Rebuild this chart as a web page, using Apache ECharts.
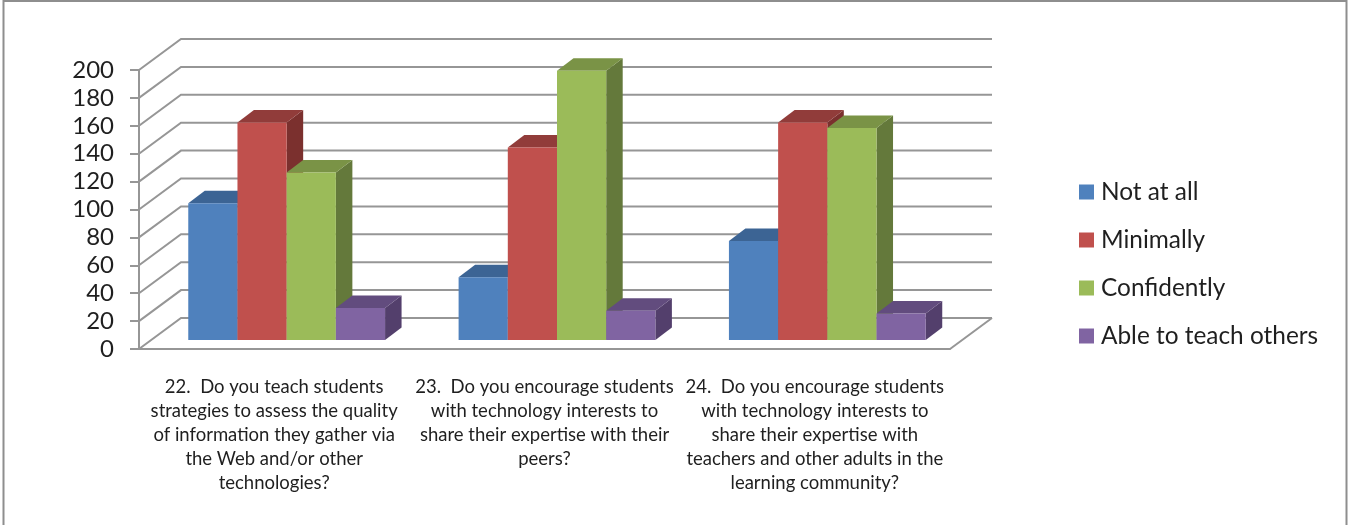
<!DOCTYPE html>
<html>
<head>
<meta charset="utf-8">
<title>Chart</title>
<style>
  html, body { margin: 0; padding: 0; background: #fff; }
  #chart { width: 1348px; height: 525px; }
</style>
<script src="https://cdn.jsdelivr.net/npm/echarts@6/dist/echarts.min.js"></script>
</head>
<body>
<div id="chart"></div>
<script>
var categories = [
  '22.  Do you teach students\nstrategies to assess the quality\nof information they gather via\nthe Web and/or other\ntechnologies?',
  '23.  Do you encourage students\nwith technology interests to\nshare their expertise with their\npeers?',
  '24.  Do you encourage students\nwith technology interests to\nshare their expertise with\nteachers and other adults in the\nlearning community?'
];
var seriesNames = ['Not at all', 'Minimally', 'Confidently', 'Able to teach others'];
var notAtAll = [98, 45, 71];
var minimally = [156, 138, 156];
var confidently = [120, 193, 152];
var ableToTeach = [23, 21, 19];
var yTicks = [0, 20, 40, 60, 80, 100, 120, 140, 160, 180, 200];

var values = [notAtAll, minimally, confidently, ableToTeach];
var frontColors = ['#4f81bd', '#c0504d', '#9bbb59', '#8064a2'];
var topColors = ['#3c6494', '#913c3a', '#7a9346', '#624c7e'];
var sideColors = ['#355a85', '#7b302e', '#64793b', '#533f6c'];

var lineColor = '#969696';
var wallDx = 42, wallDy = 31;   // depth of the chart box
var barDx = 16.5, barDy = 12.5; // depth of a bar
var gapDx = 12.5, gapDy = 9;    // space between front of box and front of bars
var barShare = 0.182;           // bar width as share of a category

function renderWall(params, api) {
  var cs = params.coordSys;
  var y = api.coord([0, api.value(0)])[1];
  var kids = [
    { type: 'polyline', shape: { points: [[cs.x, y], [cs.x + wallDx, y - wallDy], [cs.x + cs.width + wallDx, y - wallDy]] },
      style: { stroke: lineColor, lineWidth: 2, fill: null } }
  ];
  if (api.value(0) === 0) {
    kids.push({ type: 'line', shape: { x1: cs.x + cs.width, y1: y, x2: cs.x + cs.width + wallDx, y2: y - wallDy },
      style: { stroke: lineColor, lineWidth: 2 } });
  }
  return { type: 'group', children: kids };
}

function makeRenderBar(index) {
  return function (params, api) {
    var top = api.coord([api.value(0), api.value(1)]);
    var base = api.coord([api.value(0), 0]);
    var w = api.size([1, 0])[0] * barShare;
    var x0 = top[0] + gapDx + (index - 2) * w;
    var x1 = x0 + w;
    var y0 = top[1] - gapDy;
    var y1 = base[1] - gapDy;
    return {
      type: 'group',
      children: [
        { type: 'polygon', shape: { points: [[x1, y0], [x1 + barDx, y0 - barDy], [x1 + barDx, y1 - barDy], [x1, y1]] },
          style: { fill: sideColors[index] } },
        { type: 'polygon', shape: { points: [[x0, y0], [x1, y0], [x1 + barDx, y0 - barDy], [x0 + barDx, y0 - barDy]] },
          style: { fill: topColors[index] } },
        { type: 'rect', shape: { x: x0, y: y0, width: w, height: y1 - y0 },
          style: { fill: frontColors[index] } }
      ]
    };
  };
}

var series = [{
  name: 'wall',
  type: 'custom',
  silent: true,
  z: 1,
  renderItem: renderWall,
  encode: { y: 0 },
  data: yTicks.map(function (t) { return [t]; })
}];
seriesNames.forEach(function (name, i) {
  series.push({
    name: name,
    type: 'custom',
    z: 3 + i,
    itemStyle: { color: frontColors[i] },
    renderItem: makeRenderBar(i),
    encode: { x: 0, y: 1 },
    data: values[i].map(function (v, c) { return [c, v]; })
  });
});

var myChart = echarts.init(document.getElementById('chart'), null, { renderer: 'canvas' });
myChart.setOption({
  animation: false,
  backgroundColor: '#fff',
  textStyle: { fontFamily: 'Lato' },
  grid: { left: 139, right: 398, top: 70, bottom: 176 },
  graphic: [{
    type: 'polyline',
    shape: { points: [[3.5, 525], [3.5, 1], [1346.5, 1], [1346.5, 525]] },
    style: { stroke: '#8e8e8e', lineWidth: 2, fill: null }
  }],
  legend: {
    orient: 'vertical',
    left: 1079,
    top: 180,
    padding: 0,
    data: seriesNames,
    icon: 'rect',
    itemWidth: 15,
    itemHeight: 15,
    itemGap: 24,
    selectedMode: false,
    textStyle: { fontFamily: 'Lato', fontSize: 24.4, color: '#1f1f1f', padding: [0, 0, 0, 2], height: 24, lineHeight: 24 }
  },
  xAxis: {
    type: 'category',
    data: categories,
    axisLine: { lineStyle: { color: lineColor, width: 2 } },
    axisTick: { length: 6, lineStyle: { color: lineColor, width: 2 } },
    axisLabel: { interval: 0, margin: 26, fontFamily: 'Lato', fontSize: 18.5, lineHeight: 24, color: '#1f1f1f', align: 'center' }
  },
  yAxis: {
    type: 'value',
    min: 0,
    max: 200,
    interval: 20,
    splitLine: { show: false },
    axisLine: { show: true, lineStyle: { color: lineColor, width: 2 } },
    axisTick: { show: true, length: 9, lineStyle: { color: lineColor, width: 2 } },
    axisLabel: { margin: 25, fontFamily: 'Lato', fontSize: 24, color: '#1f1f1f', padding: [6, 0, 0, 0] }
  },
  series: series
});
</script>
</body>
</html>
